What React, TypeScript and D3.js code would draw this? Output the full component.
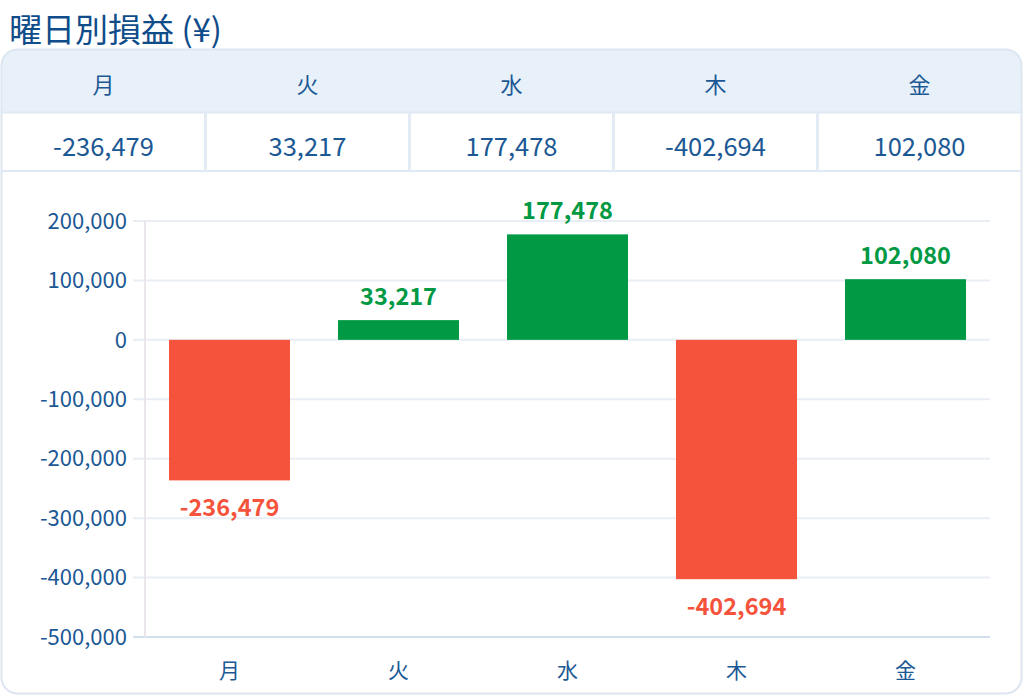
import React, { useEffect, useRef } from 'react';
import * as d3 from 'd3';

const days = ['月', '火', '水', '木', '金'];
const pnl = [-236479, 33217, 177478, -402694, 102080];
const yTicks = [200000, 100000, 0, -100000, -200000, -300000, -400000, -500000];

const W = 1024;
const H = 697;
const FONT = '"Noto Sans CJK JP", "Noto Sans", sans-serif';
const BLUE = '#1b5894';
const GREEN = '#019944';
const RED = '#f5533b';

const fmt = d3.format(',');

const App: React.FC = () => {
  const ref = useRef<SVGSVGElement | null>(null);

  useEffect(() => {
    if (!ref.current) return;
    const svg = d3.select(ref.current);
    svg.selectAll('*').remove();

    // title
    svg.append('text')
      .attr('x', 9)
      .attr('y', 42)
      .attr('font-size', 33)
      .attr('fill', '#0f4c8a')
      .attr('font-weight', 400)
      .text('曜日別損益 (¥)');

    // card
    const card = { x: 1.5, y: 49.5, w: 1020, h: 644, r: 16 };
    svg.append('clipPath').attr('id', 'cardClip')
      .append('rect')
      .attr('x', card.x).attr('y', card.y)
      .attr('width', card.w).attr('height', card.h)
      .attr('rx', card.r);

    svg.append('rect')
      .attr('x', card.x).attr('y', card.y)
      .attr('width', card.w).attr('height', card.h)
      .attr('rx', card.r)
      .attr('fill', '#fff');

    const table = svg.append('g').attr('clip-path', 'url(#cardClip)');
    const headTop = 50, headBot = 112, rowBot = 171;
    table.append('rect')
      .attr('x', 0).attr('y', headTop)
      .attr('width', W).attr('height', headBot - headTop)
      .attr('fill', '#e8f1fa');

    const col = d3.scaleBand().domain(days).range([card.x, card.x + card.w]);

    table.append('line')
      .attr('x1', 0).attr('x2', W)
      .attr('y1', headBot + 0.5).attr('y2', headBot + 0.5)
      .attr('stroke', '#dfe9f4').attr('stroke-width', 2);
    table.append('line')
      .attr('x1', 0).attr('x2', W)
      .attr('y1', rowBot).attr('y2', rowBot)
      .attr('stroke', '#dfe9f4').attr('stroke-width', 2);

    table.selectAll('.divider')
      .data(days.slice(1))
      .enter().append('line')
      .attr('class', 'divider')
      .attr('x1', (d) => col(d) || 0)
      .attr('x2', (d) => col(d) || 0)
      .attr('y1', headBot).attr('y2', rowBot)
      .attr('stroke', '#e3ecf5').attr('stroke-width', 3);

    table.selectAll('.headTxt')
      .data(days)
      .enter().append('text')
      .attr('class', 'headTxt')
      .attr('x', (d) => (col(d) || 0) + col.bandwidth() / 2)
      .attr('y', 93)
      .attr('text-anchor', 'middle')
      .attr('font-size', 22)
      .attr('fill', BLUE)
      .text((d) => d);

    table.selectAll('.valTxt')
      .data(days)
      .enter().append('text')
      .attr('class', 'valTxt')
      .attr('x', (d) => (col(d) || 0) + col.bandwidth() / 2)
      .attr('y', 156)
      .attr('text-anchor', 'middle')
      .attr('font-size', 25.5)
      .attr('fill', BLUE)
      .text((_, i) => fmt(pnl[i]).replace('−', '-'));

    svg.append('rect')
      .attr('x', card.x).attr('y', card.y)
      .attr('width', card.w).attr('height', card.h)
      .attr('rx', card.r)
      .attr('fill', 'none')
      .attr('stroke', '#dde6f0')
      .attr('stroke-width', 2);

    // chart
    const plot = { left: 145, right: 990, top: 221, bottom: 637 };
    const x = d3.scaleBand()
      .domain(days)
      .range([plot.left, plot.right])
      .paddingInner(0.284)
      .paddingOuter(0.142);
    const y = d3.scaleLinear().domain([-500000, 200000]).range([plot.bottom, plot.top]);

    const g = svg.append('g');

    g.selectAll('.grid')
      .data(yTicks)
      .enter().append('line')
      .attr('class', 'grid')
      .attr('x1', 133).attr('x2', plot.right)
      .attr('y1', (d) => y(d)).attr('y2', (d) => y(d))
      .attr('stroke', (d) => (d === -500000 ? '#d3dfec' : '#e9eef5'))
      .attr('stroke-width', 2);

    g.append('line')
      .attr('x1', plot.left).attr('x2', plot.left)
      .attr('y1', plot.top).attr('y2', plot.bottom)
      .attr('stroke', '#ebe6ec').attr('stroke-width', 2);

    g.selectAll('.ytick')
      .data(yTicks)
      .enter().append('text')
      .attr('class', 'ytick')
      .attr('x', 127)
      .attr('y', (d) => y(d))
      .attr('dy', '0.35em')
      .attr('text-anchor', 'end')
      .attr('font-size', 22)
      .attr('fill', BLUE)
      .text((d) => fmt(d).replace('−', '-'));

    g.selectAll('.bar')
      .data(pnl)
      .enter().append('rect')
      .attr('class', 'bar')
      .attr('x', (_, i) => x(days[i]) || 0)
      .attr('width', x.bandwidth())
      .attr('y', (d) => y(Math.max(0, d)))
      .attr('height', (d) => Math.abs(y(d) - y(0)))
      .attr('fill', (d) => (d >= 0 ? GREEN : RED));

    g.selectAll('.barLabel')
      .data(pnl)
      .enter().append('text')
      .attr('class', 'barLabel')
      .attr('x', (_, i) => (x(days[i]) || 0) + x.bandwidth() / 2)
      .attr('y', (d) => (d >= 0 ? y(d) - 15 : y(d) + 36))
      .attr('text-anchor', 'middle')
      .attr('font-size', 23.5)
      .attr('font-weight', 700)
      .attr('fill', (d) => (d >= 0 ? GREEN : RED))
      .text((d) => fmt(d).replace('−', '-'));

    g.selectAll('.xtick')
      .data(days)
      .enter().append('text')
      .attr('class', 'xtick')
      .attr('x', (d) => (x(d) || 0) + x.bandwidth() / 2)
      .attr('y', 678)
      .attr('text-anchor', 'middle')
      .attr('font-size', 21)
      .attr('fill', BLUE)
      .text((d) => d);
  }, []);

  return (
    <svg
      ref={ref}
      width={W}
      height={H}
      style={{ position: 'absolute', left: 0, top: 0, fontFamily: FONT }}
    />
  );
};

export default App;
